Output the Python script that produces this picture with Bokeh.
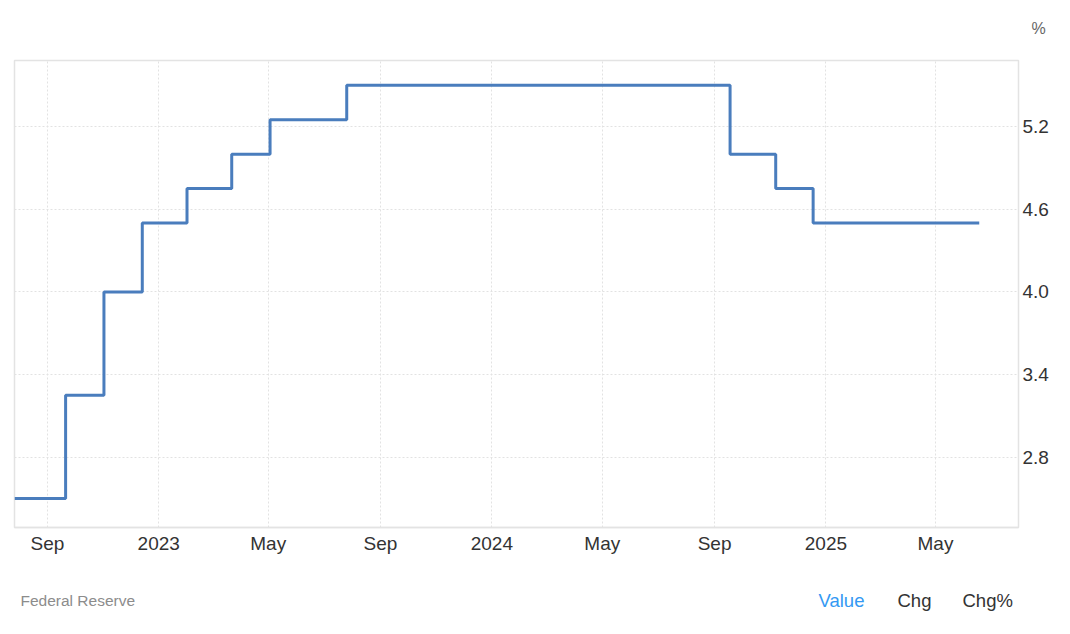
import pandas as pd
from bokeh.plotting import figure
from bokeh.layouts import column
from bokeh.models import FixedTicker, Range1d
from bokeh.core.properties import value
from bokeh.embed import file_html
from bokeh.resources import INLINE

# ---- data ----
change_dates = ["2022-07-27", "2022-09-21", "2022-11-02", "2022-12-14", "2023-02-01",
                "2023-03-22", "2023-05-03", "2023-07-26", "2024-09-18", "2024-11-07",
                "2024-12-18", "2025-06-18"]
rates = [2.50, 3.25, 4.00, 4.50, 4.75, 5.00, 5.25, 5.50, 5.00, 4.75, 4.50, 4.50]

tick_dates = ["2022-09-01", "2023-01-01", "2023-05-01", "2023-09-01", "2024-01-01",
              "2024-05-01", "2024-09-01", "2025-01-01", "2025-05-01"]
tick_labels = ["Sep", "2023", "May", "Sep", "2024", "May", "Sep", "2025", "May"]

y_ticks = [2.8, 3.4, 4.0, 4.6, 5.2]

source_text = "Federal Reserve"
unit_text = "%"
tabs = ["Value", "Chg", "Chg%"]

x_start, x_end = "2022-07-27", "2025-07-31"
y_start, y_end = 2.29, 5.68


def ms(d):
    return pd.Timestamp(d).value / 1e6


xs = [ms(d) for d in change_dates]
xt = [ms(d) for d in tick_dates]

FONT = "Liberation Sans"
W = 1062


def strip(height):
    f = figure(width=W, height=height, output_backend="svg", toolbar_location=None,
               x_range=Range1d(0, W), y_range=Range1d(0, height),
               min_border=0, x_axis_type=None, y_axis_type=None, frame_align=False)
    f.outline_line_color = None
    f.xgrid.visible = False
    f.ygrid.visible = False
    f.background_fill_color = "white"
    f.border_fill_color = "white"
    return f


# top strip with unit
top = strip(44)
top.text(x=[1031], y=[44 - 28], text=[unit_text], text_font=value(FONT),
         text_font_size="16px", text_color="#666666", text_baseline="middle")

# main chart
p = figure(width=W, height=521, output_backend="svg", toolbar_location=None,
           x_range=Range1d(ms(x_start), ms(x_end)), y_range=Range1d(y_start, y_end),
           x_axis_location="below", y_axis_location="right",
           min_border_left=14, min_border_right=W - 1018, min_border_top=16,
           min_border_bottom=38, frame_align=False)
p.background_fill_color = "white"
p.border_fill_color = "white"
p.outline_line_color = "#e3e3e3"
p.outline_line_width = 1.5

p.step(xs, rates, mode="after", line_color="#4a7dbd", line_width=3)

xa = p.xaxis[0]
xa.ticker = FixedTicker(ticks=xt)
xa.major_label_overrides = {t: l for t, l in zip(xt, tick_labels)}
xa.axis_line_color = "#e3e3e3"
xa.axis_line_width = 1.5
xa.major_tick_line_color = None
xa.minor_tick_line_color = None
xa.major_label_standoff = -1
xa.major_label_text_font = FONT
xa.major_label_text_font_size = "19px"
xa.major_label_text_color = "#333333"

ya = p.yaxis[0]
ya.ticker = FixedTicker(ticks=y_ticks)
ya.major_label_overrides = {t: f"{t:.1f}" for t in y_ticks}
ya.axis_line_color = None
ya.major_tick_line_color = None
ya.minor_tick_line_color = None
ya.major_label_standoff = -2
ya.major_label_text_font = FONT
ya.major_label_text_font_size = "19px"
ya.major_label_text_color = "#333333"

for g in (p.xgrid[0], p.ygrid[0]):
    g.grid_line_color = "#e2e2e2"
    g.grid_line_dash = "2 2"
    g.grid_line_width = 1
p.xgrid[0].ticker = FixedTicker(ticks=xt)
p.ygrid[0].ticker = FixedTicker(ticks=y_ticks)

# bottom strip
bot = strip(69)
by = 69 - 35
bot.text(x=[20], y=[by], text=[source_text], text_font=value(FONT),
         text_font_size="15.5px", text_color="#8c8c8c", text_baseline="middle")
bot.text(x=[818, 897, 962], y=[by] * 3, text=tabs, text_font=value(FONT),
         text_font_size="18.5px", text_color=["#3399f3", "#333333", "#333333"],
         text_baseline="middle")

layout = column(top, p, bot, spacing=0)
open("out.html", "w").write(file_html(layout, INLINE))
